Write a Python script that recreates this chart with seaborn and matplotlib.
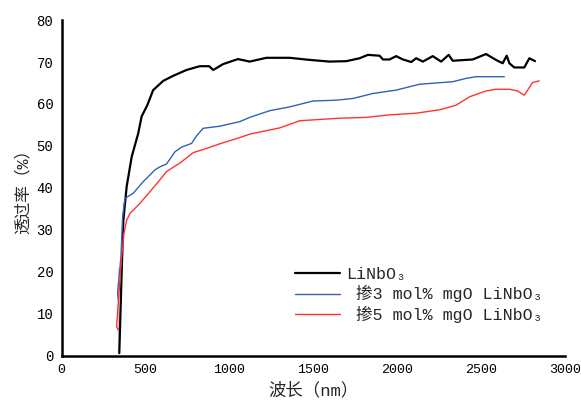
import numpy as np
import pandas as pd
import seaborn as sns
import matplotlib.pyplot as plt

sns.set_style("white")
plt.rcParams['font.family'] = ['Liberation Mono', 'Noto Sans CJK SC', 'DejaVu Sans']

# pure LiNbO3
wl_pure = [344, 358, 368, 368, 388, 418, 457, 477, 511, 546, 606, 665, 745, 824, 880, 904,
           963, 1052, 1122, 1221, 1360, 1479, 1598, 1698, 1777, 1826, 1896, 1916, 1955, 1995,
           2035, 2085, 2114, 2154, 2213, 2263, 2308, 2332, 2451, 2531, 2590, 2630, 2654, 2670,
           2699, 2759, 2789, 2823]
tr_pure = [0.6, 19.6, 27.6, 36.7, 40.3, 47.4, 53.0, 57.0, 59.7, 63.3, 65.5, 66.7, 68.1, 69.0,
           69.0, 68.1, 69.5, 70.7, 70.1, 71.0, 71.0, 70.5, 70.1, 70.2, 70.9, 71.7, 71.5, 70.6,
           70.6, 71.4, 70.6, 70.0, 70.9, 70.1, 71.4, 70.1, 71.7, 70.3, 70.6, 71.9, 70.5, 69.7,
           71.5, 69.7, 68.7, 68.7, 70.9, 70.2]

# 3 mol% MgO
wl_mg3 = [338, 334, 338, 354, 364, 378, 427, 487, 557, 586, 626, 676, 715, 775, 801, 844,
          943, 1063, 1122, 1241, 1360, 1499, 1638, 1737, 1856, 1995, 2134, 2332, 2412, 2471,
          2640]
tr_mg3 = [5.3, 14.9, 21.2, 23.6, 33.1, 37.5, 38.7, 41.5, 44.3, 45.0, 45.7, 48.6, 49.7, 50.6,
          52.2, 54.2, 54.7, 55.8, 56.8, 58.4, 59.3, 60.7, 60.9, 61.3, 62.5, 63.3, 64.7, 65.3,
          66.1, 66.5, 66.5]

# 5 mol% MgO
wl_mg5 = [338, 328, 338, 358, 372, 388, 408, 467, 527, 586, 626, 705, 785, 864, 943, 1063,
          1122, 1301, 1420, 1658, 1817, 1955, 2114, 2253, 2352, 2432, 2531, 2590, 2670, 2719,
          2759, 2808, 2848]
tr_mg5 = [0.6, 6.9, 11.7, 23.6, 29.2, 32.3, 33.9, 36.3, 39.1, 41.9, 43.9, 45.9, 48.4, 49.4,
          50.5, 52.0, 52.8, 54.3, 56.0, 56.6, 56.8, 57.4, 57.8, 58.6, 59.7, 61.7, 63.1, 63.5,
          63.5, 63.1, 62.1, 65.1, 65.5]

labels = ["LiNbO₃", " 掺3 mol% mgO LiNbO₃", " 掺5 mol% mgO LiNbO₃"]
colors = ["black", "#2f62b8", "#ff3333"]
widths = [1.6, 1.0, 1.0]

fig = plt.figure(figsize=(5.81, 4.01), dpi=100)
ax = fig.add_axes([0.106, 0.113, 0.866, 0.837])

for wl, tr, lab, c, w in zip([wl_pure, wl_mg3, wl_mg5], [tr_pure, tr_mg3, tr_mg5],
                             labels, colors, widths):
    df = pd.DataFrame({"wl": wl, "tr": tr})
    sns.lineplot(data=df, x="wl", y="tr", sort=False, color=c, linewidth=w, label=lab, ax=ax)

ax.set_xlim(0, 3000)
ax.set_ylim(0, 80)
ax.set_xticks(range(0, 3001, 500))
ax.set_yticks(range(0, 81, 10))
ax.set_xlabel("波长（nm）", fontsize=12.5, labelpad=4)
ax.set_ylabel("透过率（%）", fontsize=12, labelpad=4)
for s in ["top", "right"]:
    ax.spines[s].set_visible(False)
for s in ["left", "bottom"]:
    ax.spines[s].set_linewidth(1.8)
    ax.spines[s].set_color("black")
ax.tick_params(direction="in", length=5, width=1.5, colors="black")
ax.xaxis.set_tick_params(labelsize=9.6, pad=6)
ax.yaxis.set_tick_params(labelsize=10, pad=6)

leg = ax.legend(loc="upper left", bbox_to_anchor=(0.45, 0.285), frameon=False,
                fontsize=12, handlelength=2.7, handletextpad=0.4,
                borderaxespad=0, labelspacing=0.22)

fig.savefig("out.png", dpi=100)
